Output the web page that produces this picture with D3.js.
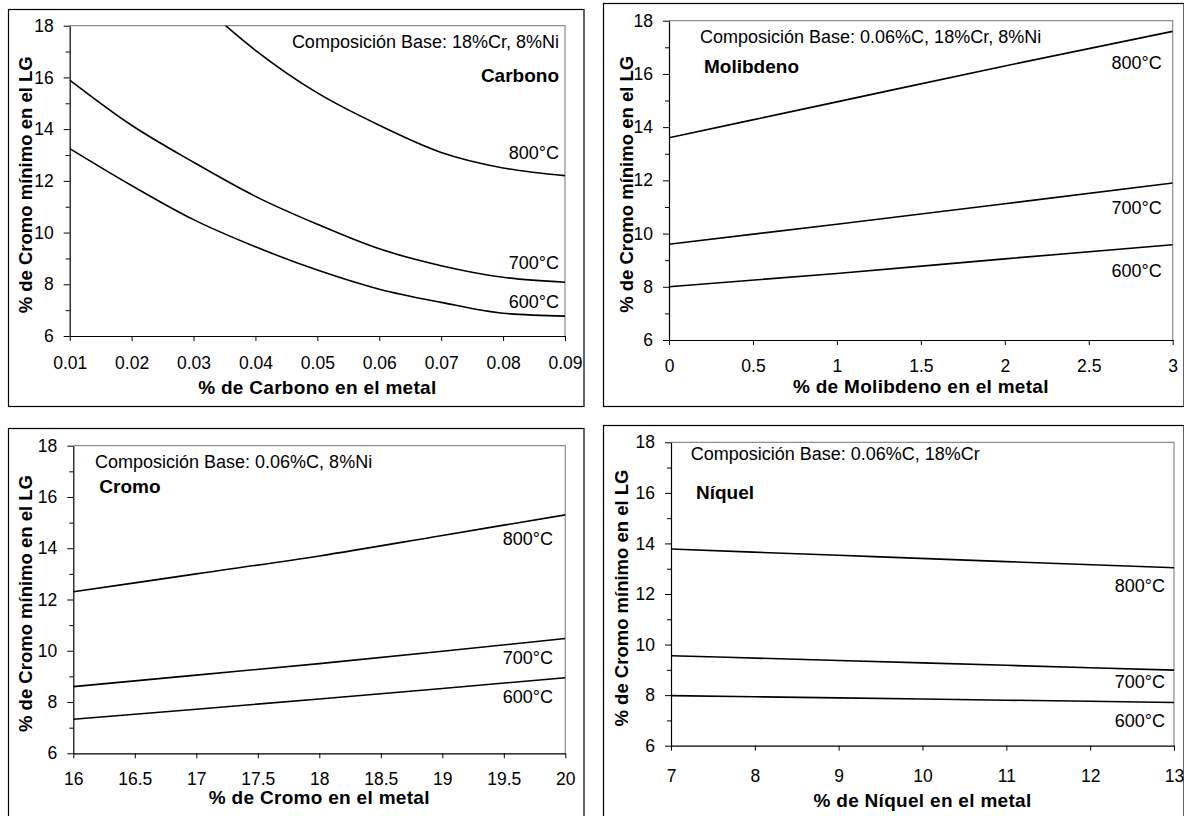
<!DOCTYPE html>
<html>
<head>
<meta charset="utf-8">
<script src="https://cdn.jsdelivr.net/npm/d3@7"></script>
<style>
  body { margin: 0; background: #fff; }
  svg text { font-family: "Liberation Sans", Arial, sans-serif; fill: #000; }
</style>
</head>
<body>
<div id="chart"></div>
<script>
// ---- data ----
const yTicks = [6, 8, 10, 12, 14, 16, 18];
const yMinorTicks = [7, 9, 11, 13, 15, 17];
const tempLabels = ['600°C', '700°C', '800°C'];

// Carbono
const carbonX = [0.01, 0.02, 0.03, 0.04, 0.05, 0.06, 0.07, 0.08, 0.09];
const carbon600 = [13.25, 11.82, 10.5, 9.45, 8.55, 7.81, 7.3, 6.88, 6.77];
const carbon700 = [15.9, 14.15, 12.72, 11.4, 10.32, 9.37, 8.72, 8.27, 8.08];
const carbon800 = [null, null, 19.1, 17.05, 15.4, 14.15, 13.1, 12.5, 12.2];
const carbonTicks = [0.01, 0.02, 0.03, 0.04, 0.05, 0.06, 0.07, 0.08, 0.09];

// Molibdeno
const molyX = [0, 1, 2, 3];
const moly600 = [8.0, 8.5, 9.05, 9.58];
const moly700 = [9.6, 10.35, 11.12, 11.9];
const moly800 = [13.6, 14.95, 16.3, 17.6];
const molyTicks = [0, 0.5, 1, 1.5, 2, 2.5, 3];

// Cromo
const chromeX = [16, 17, 18, 19, 20];
const chrome600 = [7.33, 7.72, 8.12, 8.53, 8.95];
const chrome700 = [8.6, 9.05, 9.5, 9.98, 10.48];
const chrome800 = [12.3, 13.0, 13.7, 14.5, 15.3];
const chromeTicks = [16, 16.5, 17, 17.5, 18, 18.5, 19, 19.5, 20];

// Níquel
const nickelX = [7, 9, 11, 13];
const nickel600 = [7.98, 7.89, 7.8, 7.71];
const nickel700 = [9.56, 9.37, 9.18, 8.99];
const nickel800 = [13.78, 13.53, 13.28, 13.04];
const nickelTicks = [7, 8, 9, 10, 11, 12, 13];

const yTitle = '% de Cromo mínimo en el LG';

// ---- layout of the four panels ----
const panels = [
    {
        box: [8, 9, 583.5, 406], plot: [69.7, 25.7, 565, 336],
        xDomain: [0.01, 0.09], xTicks: carbonTicks, xFormat: d3.format('.2f'),
        xs: carbonX, series: [carbon600, carbon700, carbon800],
        base: { text: 'Composición Base: 18%Cr, 8%Ni', x: 559, y: 48, anchor: 'end' },
        element: { text: 'Carbono', x: 559, y: 82, anchor: 'end' },
        tempX: 559, tempY: [308, 269, 159],
        xTitle: '% de Carbono en el metal', xTitleY: 394, yTitleX: 31.5, tickBase: 33
    },
    {
        box: [603, 3, 1183.5, 406], plot: [669, 20.7, 1172.7, 340],
        xDomain: [0, 3], xTicks: molyTicks, xFormat: d => String(d),
        xs: molyX, series: [moly600, moly700, moly800],
        base: { text: 'Composición Base: 0.06%C, 18%Cr, 8%Ni', x: 700, y: 43, anchor: 'start' },
        element: { text: 'Molibdeno', x: 704, y: 73, anchor: 'start' },
        tempX: 1161.7, tempY: [277, 214, 69],
        xTitle: '% de Molibdeno en el metal', xTitleY: 393, yTitleX: 633, tickBase: 32
    },
    {
        box: [8, 428, 583.5, 830], plot: [73.3, 445.7, 565.3, 753.3],
        xDomain: [16, 20], xTicks: chromeTicks, xFormat: d => String(d),
        xs: chromeX, series: [chrome600, chrome700, chrome800],
        base: { text: 'Composición Base: 0.06%C, 8%Ni', x: 95, y: 468, anchor: 'start' },
        element: { text: 'Cromo', x: 99.3, y: 493, anchor: 'start' },
        tempX: 553, tempY: [703, 664, 545],
        xTitle: '% de Cromo en el metal', xTitleY: 804, yTitleX: 32.3, tickBase: 32
    },
    {
        box: [603, 425, 1183.5, 830], plot: [671, 442.3, 1174, 745.7],
        xDomain: [7, 13], xTicks: nickelTicks, xFormat: d => String(d),
        xs: nickelX, series: [nickel600, nickel700, nickel800],
        base: { text: 'Composición Base: 0.06%C, 18%Cr', x: 690.7, y: 460, anchor: 'start' },
        element: { text: 'Níquel', x: 696, y: 499, anchor: 'start' },
        tempX: 1165, tempY: [726.7, 688.3, 591.7],
        xTitle: '% de Níquel en el metal', xTitleY: 807, yTitleX: 628, tickBase: 36
    }
];

const svg = d3.select('#chart')
    .append('svg')
    .attr('width', 1184)
    .attr('height', 816);

panels.forEach((p, i) => DrawPanel(p, i));

function DrawPanel(p, idx) {
    const [bx0, by0, bx1, by1] = p.box;
    const [px0, py0, px1, py1] = p.plot;

    // outer frame of the chart
    svg.append('rect')
        .attr('x', bx0 + 0.5).attr('y', by0 + 0.5)
        .attr('width', bx1 - bx0).attr('height', by1 - by0)
        .attr('fill', '#fff')
        .attr('stroke', '#000')
        .attr('stroke-width', 1.2);

    const scaleX = d3.scaleLinear().domain(p.xDomain).range([px0, px1]);
    const scaleY = d3.scaleLinear().domain([6, 18]).range([py1, py0]);

    // plot area: grey on top and right side
    svg.append('path')
        .attr('d', `M${px0},${py0}H${px1}V${py1}`)
        .attr('fill', 'none')
        .attr('stroke', '#8c8c8c')
        .attr('stroke-width', 1.2);

    // clip so curves stop at the 18 line
    const clipId = 'clip' + idx;
    svg.append('clipPath').attr('id', clipId)
        .append('rect')
        .attr('x', px0).attr('y', py0)
        .attr('width', px1 - px0).attr('height', py1 - py0);

    const line = d3.line()
        .defined(d => d[1] != null)
        .x(d => scaleX(d[0]))
        .y(d => scaleY(d[1]))
        .curve(d3.curveMonotoneX);

    p.series.forEach(values => {
        const pts = p.xs.map((x, k) => [x, values[k]]);
        svg.append('path')
            .datum(pts)
            .attr('clip-path', `url(#${clipId})`)
            .attr('fill', 'none')
            .attr('stroke', '#000')
            .attr('stroke-width', 1.6)
            .attr('d', line);
    });

    // y axis, minor ticks first
    svg.append('g')
        .attr('transform', `translate(${px0},0)`)
        .call(d3.axisLeft(scaleY).tickValues(yMinorTicks).tickSize(4).tickFormat(''))
        .call(g => g.select('.domain').remove())
        .selectAll('line').attr('stroke', '#000');

    const yAxis = svg.append('g')
        .attr('transform', `translate(${px0},0)`)
        .call(d3.axisLeft(scaleY).tickValues(yTicks).tickSize(6).tickSizeOuter(0).tickPadding(10));
    yAxis.selectAll('text').attr('font-size', 17.5).attr('font-family', null);

    // x axis
    const xAxis = svg.append('g')
        .attr('transform', `translate(0,${py1})`)
        .call(d3.axisBottom(scaleX).tickValues(p.xTicks).tickSize(5).tickSizeOuter(0).tickFormat(p.xFormat));
    xAxis.selectAll('text')
        .attr('font-size', 17.5).attr('font-family', null)
        .attr('y', p.tickBase).attr('dy', 0);

    [xAxis, yAxis].forEach(g => {
        g.select('.domain').attr('stroke', '#000').attr('stroke-width', 1.2);
        g.selectAll('line').attr('stroke', '#000');
    });

    // annotations
    svg.append('text')
        .attr('x', p.base.x).attr('y', p.base.y)
        .attr('text-anchor', p.base.anchor)
        .attr('font-size', 18)
        .text(p.base.text);

    svg.append('text')
        .attr('x', p.element.x).attr('y', p.element.y)
        .attr('text-anchor', p.element.anchor)
        .attr('font-size', 19).attr('font-weight', 'bold')
        .text(p.element.text);

    tempLabels.forEach((t, k) => {
        svg.append('text')
            .attr('x', p.tempX).attr('y', p.tempY[k])
            .attr('text-anchor', 'end')
            .attr('font-size', 18)
            .text(t);
    });

    // axis titles
    svg.append('text')
        .attr('x', (px0 + px1) / 2).attr('y', p.xTitleY)
        .attr('text-anchor', 'middle')
        .attr('font-size', 19).attr('font-weight', 'bold')
        .attr('letter-spacing', 0.3)
        .text(p.xTitle);

    svg.append('text')
        .attr('transform', `translate(${p.yTitleX},${(py0 + py1) / 2 + 4}) rotate(-90)`)
        .attr('text-anchor', 'middle')
        .attr('font-size', 18.5).attr('font-weight', 'bold')
        .text(yTitle);
}
</script>
</body>
</html>
